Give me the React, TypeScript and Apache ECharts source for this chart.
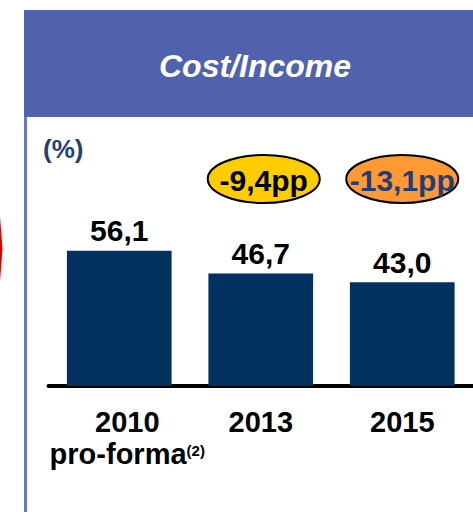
import React, { useEffect, useRef } from 'react';
import * as echarts from 'echarts';

const categories = ['2010', '2013', '2015'];
const values = [56.1, 46.7, 43.0];
const firstSubLabel = 'pro-forma';
const firstSup = '(2)';
const badgeCategories = ['2013', '2015'];
const badgeTexts = ['-9,4pp', '-13,1pp'];
const badgeFills = ['#FFCC00', '#FF9933'];
const badgeTextColors = ['#000000', '#1F3F7A'];
const title = 'Cost/Income';
const unitLabel = '(%)';

const FONT = 'Arial, "Liberation Sans", sans-serif';

export default function App() {
  const ref = useRef<HTMLDivElement>(null);
  useEffect(() => {
    const chart = echarts.init(ref.current!, null, { renderer: 'svg' });
    chart.setOption({
      animation: false,
      backgroundColor: '#ffffff',
      grid: { left: 48.5, right: -5.5, top: 145, bottom: 126, containLabel: false },
      xAxis: {
        type: 'category',
        data: categories.map((c, i) =>
          i === 0 ? { value: c, textStyle: { padding: [0, 0, 0, 16] } } : c
        ),
        axisLine: { lineStyle: { color: '#000000', width: 4 } },
        axisTick: { show: false },
        axisLabel: {
          margin: 20,
          interval: 0,
          fontSize: 29,
          fontWeight: 'bold',
          color: '#000000',
          fontFamily: FONT,
          formatter: (v: string, i: number) =>
            i === 0 ? `{a|${v}}\n{b|${firstSubLabel}}{s|${firstSup}}` : `{a|${v}}`,
          rich: {
            a: { fontSize: 29, fontWeight: 'bold', fontFamily: FONT, color: '#000', lineHeight: 32 },
            b: { fontSize: 29, fontWeight: 'bold', fontFamily: FONT, color: '#000', lineHeight: 32 },
            s: { fontSize: 15, fontWeight: 'bold', fontFamily: FONT, color: '#000', lineHeight: 32, padding: [0, 0, 8, 0] },
          },
        },
      },
      yAxis: { type: 'value', min: 0, max: 100, show: false },
      series: [
        {
          type: 'bar',
          data: values,
          barWidth: '74%',
          itemStyle: { color: '#00315F' },
          label: {
            show: true,
            position: 'top',
            distance: 5,
            formatter: (p: any) => Number(p.value).toFixed(1).replace('.', ','),
            fontSize: 30,
            fontWeight: 'bold',
            color: '#000000',
            fontFamily: FONT,
          },
        },
        {
          type: 'custom',
          data: badgeCategories.map((c) => [c]),
          encode: { x: 0 },
          renderItem: (params: any, api: any) => {
            const x = api.coord([api.value(0), 0])[0];
            const i = params.dataIndex;
            const cy = 179;
            const dx = i === 0 ? 3 : 0;
            return {
              type: 'group',
              children: [
                {
                  type: 'ellipse',
                  shape: { cx: x + dx, cy, rx: 56, ry: 24 },
                  style: { fill: badgeFills[i], stroke: '#000000', lineWidth: 2 },
                },
                {
                  type: 'text',
                  style: {
                    text: badgeTexts[i],
                    x: x + dx,
                    y: cy + 1,
                    align: 'center',
                    verticalAlign: 'middle',
                    fontSize: 30,
                    fontWeight: 'bold',
                    fontFamily: FONT,
                    fill: badgeTextColors[i],
                  },
                },
              ],
            };
          },
        },
      ],
      graphic: [
        {
          type: 'rect',
          shape: { x: 24, y: 10, width: 449, height: 107 },
          style: { fill: '#5061AE' },
        },
        {
          type: 'text',
          style: {
            text: title,
            x: 255,
            y: 66,
            align: 'center',
            verticalAlign: 'middle',
            fontSize: 32,
            fontWeight: 'bold',
            fontStyle: 'italic',
            fontFamily: FONT,
            fill: '#ffffff',
          },
        },
        {
          type: 'line',
          shape: { x1: 25.5, y1: 117, x2: 25.5, y2: 512 },
          style: { stroke: '#6A78C0', lineWidth: 3 },
        },
        {
          type: 'polygon',
          shape: { points: [[0, 217], [2.5, 249], [0, 281]] },
          style: { fill: '#E00000' },
        },
        {
          type: 'text',
          style: {
            text: unitLabel,
            x: 43,
            y: 149,
            verticalAlign: 'middle',
            fontSize: 26,
            fontWeight: 'bold',
            fontFamily: FONT,
            fill: '#1F3F7A',
          },
        },
      ],
    });
    return () => chart.dispose();
  }, []);
  return (
    <div
      ref={ref}
      style={{ position: 'fixed', left: 0, top: 0, width: 473, height: 512 }}
    />
  );
}
